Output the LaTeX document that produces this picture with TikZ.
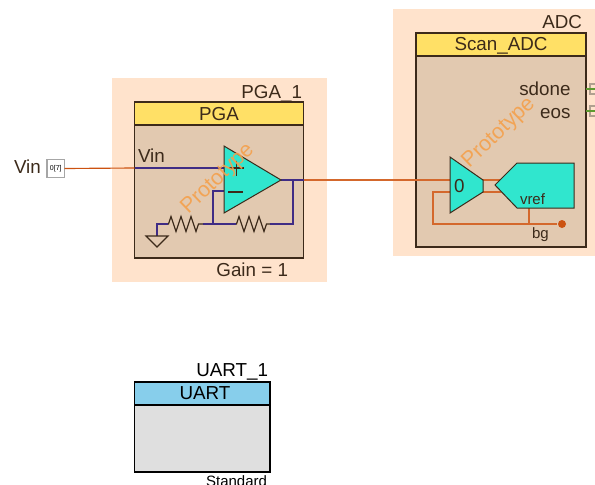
\documentclass[tikz,border=0pt]{standalone}
\usepackage{fontspec}
\setmainfont{Liberation Sans}
\usepackage{tikz}
\usetikzlibrary{arrows.meta,positioning,decorations.pathmorphing}
\definecolor{tint}{HTML}{FFE3CC}
\definecolor{bodybrown}{HTML}{E2C9B0}
\definecolor{edgebrown}{HTML}{3C2A1A}
\definecolor{headyellow}{HTML}{FFE066}
\definecolor{headblue}{HTML}{87CEEB}
\definecolor{bodygray}{HTML}{DFDFDF}
\definecolor{chipcyan}{HTML}{30E6CE}
\definecolor{wirenavy}{HTML}{3F2C85}
\definecolor{wirered}{HTML}{CC5210}
\definecolor{wireorange}{HTML}{D4682C}
\definecolor{wiregreen}{HTML}{5E9A30}
\definecolor{stampcolor}{HTML}{F4A04C}
\definecolor{pinedge}{HTML}{B0A090}

\begin{document}
\begin{tikzpicture}[x=1pt, y=-1pt, line width=1.15pt]
      \tikzstyle{tinted} = [fill=tint, draw=none, inner sep=0, outer sep=0, anchor=north west]
      \tikzstyle{body}   = [fill=bodybrown, draw=edgebrown, line width=1.6pt, inner sep=0, outer sep=0, anchor=north west]
      \tikzstyle{head}   = [body, fill=headyellow]
      \tikzstyle{lbl}    = [inner sep=0, outer sep=0, text=edgebrown, font=\fontsize{18.8}{21}\selectfont]
      \tikzstyle{small}  = [lbl, font=\fontsize{15}{17}\selectfont]
      \tikzstyle{stamp}  = [inner sep=0, text=stampcolor, text opacity=0.9, rotate=44, font=\fontsize{21.5}{24}\selectfont]
      \tikzstyle{chip}   = [fill=chipcyan, draw=edgebrown, line width=1pt]
      \tikzstyle{navy}   = [draw=wirenavy]
      \tikzstyle{res}    = [draw=edgebrown, line width=1.2pt, decorate, decoration={zigzag, segment length=10, amplitude=7.5, pre length=0.5, post length=0.5}]
      \tikzstyle{pinbox} = [draw=gray!70, fill=white, inner sep=0, outer sep=0, anchor=north west]
      \tikzstyle{pintan} = [pinbox, draw=pinedge, fill=tint]

      \clip (0,0) rectangle (595,485);

      \node[tinted, minimum width=215, minimum height=204] (pgabg) at (112,78) {};
      \node[tinted, minimum width=202, minimum height=247] (adcbg) at (393,9) {};

      \node[body, minimum width=169, minimum height=156] (pga)  at (134.5,102) {};
      \node[head, minimum width=169, minimum height=23]  (pgah) at (134.5,102) {};
      \node[body, minimum width=170, minimum height=214] (adc)  at (416,33) {};
      \node[head, minimum width=170, minimum height=23]  (adch) at (416,33) {};
      \node[body, draw=black, fill=bodygray, minimum width=135.5, minimum height=90] (uart) at (134.5,382) {};
      \node[head, draw=black, fill=headblue, minimum width=135.5, minimum height=23] (uarth) at (134.5,382) {};

      \node[lbl, anchor=base west]    (vin)   at (14,173)    {Vin};
      \node[pinbox, minimum width=17.5, minimum height=18] (pinv) at (47,159.5) {};
      \node[inner sep=0, font=\fontsize{7}{8}\selectfont] (pinvt) at (pinv) {0[7]};
      \node[pintan, minimum width=10, minimum height=10] (pinsd) at (590,84) {};
      \node[pintan, minimum width=10, minimum height=10] (pineo) at (590,106) {};

      \coordinate (ampin)  at (224,168);
      \coordinate (ampneg) at (224,191);
      \coordinate (ampout) at (281,180);
      \coordinate (pgain)  at (134.5,168);
      \coordinate (pgaout) at (304,180);
      \coordinate (fbtop)  at (293,180);
      \coordinate (fbend)  at (293,224);
      \coordinate (r2r)    at (270,224);
      \coordinate (r2l)    at (236,224);
      \coordinate (jct)    at (213,224);
      \coordinate (jctup)  at (213,191);
      \coordinate (r1r)    at (203,224);
      \coordinate (r1l)    at (168,224);
      \coordinate (gndup)  at (157,224);
      \coordinate (gnd)    at (157,236);
      \coordinate (muxin)  at (450,180);
      \coordinate (muxlow) at (450,192);
      \coordinate (muxa)   at (483,180);
      \coordinate (muxb)   at (483,192);
      \coordinate (refa)   at (501,180);
      \coordinate (refb)   at (501,192);
      \coordinate (refdn)  at (529,208);
      \coordinate (refjct) at (529,224);
      \coordinate (loopa)  at (433,192);
      \coordinate (loopb)  at (433,224);
      \node[circle, fill=wirered, draw=none, minimum size=8, inner sep=0] (bgdot) at (562,224) {};

      \draw[wirered]     (pinv.east) -- (pgain);
      \draw[navy]        (pgain) -- (ampin);
      \draw[navy]        (ampout) -- (pgaout);
      \draw[wireorange]  (pgaout) -- (muxin);
      \draw[navy]        (fbtop) -- (fbend) -- (r2r);
      \draw[navy]        (r2l) -- (r1r);
      \draw[navy]        (jct) -- (jctup) -- (ampneg);
      \draw[navy]        (r1l) -- (gndup) -- (gnd);
      \draw[res]         (r1l) -- (r1r);
      \draw[res]         (r2l) -- (r2r);
      \draw[wireorange]  (muxa) -- (refa);
      \draw[wireorange]  (muxb) -- (refb);
      \draw[wireorange]  (muxlow) -- (loopa) -- (loopb) -- (bgdot);
      \draw[wireorange]  (refdn) -- (refjct);
      \draw[wiregreen]   (adc.east |- pinsd.west) -- (pinsd.east);
      \draw[wiregreen]   (adc.east |- pineo.west) -- (pineo.east);

      \draw[draw=edgebrown] (146,236) -- (168,236) -- (157,247) -- cycle;
      \draw[chip] (224,146) -- (281,180) -- (224,213) -- cycle;
      \draw[chip] (450,157) -- (483,180) -- (483,192) -- (450,213) -- cycle;
      \draw[chip] (495,185) -- (517,163) -- (574,163) -- (574,208) -- (517,208) -- cycle;
      \draw[draw=edgebrown, line width=1.3pt] (229,168) -- (244,168) (236.5,160.5) -- (236.5,175.5);
      \draw[draw=edgebrown, line width=1.5pt] (228,192) -- (243,192);

      \node[lbl, anchor=base east]  (pgan)  at (302,98)  {PGA\_1};
      \node[lbl, anchor=base]       (pgat)  at (219,120) {PGA};
      \node[lbl, anchor=base west]  (vinin) at (138,162) {Vin};
      \node[lbl, anchor=base east]  (gain)  at (288,276) {Gain = 1};
      \node[lbl, anchor=base east]  (adcn)  at (582,28)  {ADC};
      \node[lbl, anchor=base]       (adct)  at (501,50)  {Scan\_ADC};
      \node[lbl, anchor=base east]  (sdone) at (570.5,95)  {sdone};
      \node[lbl, anchor=base east]  (eos)   at (570.5,118) {eos};
      \node[lbl, anchor=base west]  (zero)  at (454,192) {0};
      \node[small, anchor=base west]  (vref)  at (520,204) {vref};
      \node[small, anchor=base west]  (bg)    at (532,238) {bg};
      \node[lbl, anchor=base east, text=black] (uartn) at (268,376) {UART\_1};
      \node[lbl, anchor=base, text=black]      (uartt) at (205,399) {UART};
      \node[small, anchor=base east, text=black] (std)   at (267,486) {Standard};

      \node[stamp] (protoa) at (218,179) {Prototype};
      \node[stamp] (protob) at (499,133) {Prototype};
    \end{tikzpicture}
\end{document}
